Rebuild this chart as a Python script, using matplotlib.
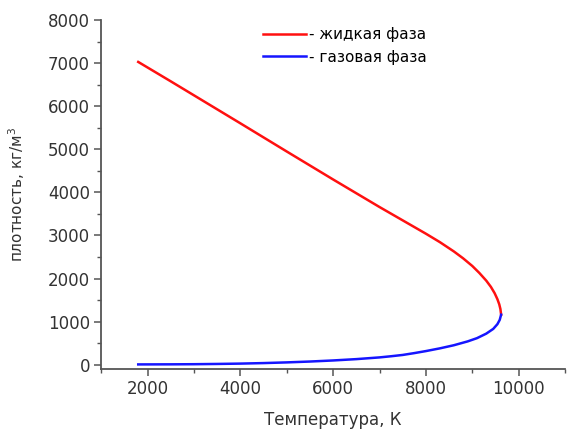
import matplotlib
matplotlib.use('Agg')
import matplotlib.pyplot as plt
from matplotlib.ticker import MultipleLocator

plt.rcParams['font.family'] = ['DejaVu Sans']

# liquid branch of the coexistence curve
T_liq = [1800, 2500, 3000, 4000, 5000, 6000, 6500, 7000, 7500, 8000,
         8300, 8600, 8800, 9000, 9150, 9300, 9400, 9480, 9540, 9580,
         9605, 9620]
rho_liq = [7030, 6580, 6255, 5605, 4950, 4300, 3980, 3660, 3350, 3040,
           2845, 2630, 2470, 2290, 2130, 1950, 1805, 1660, 1520, 1400,
           1290, 1160]

# gas branch
T_gas = [1800, 2500, 3000, 3500, 4000, 4500, 5000, 5500, 6000, 6500,
         7000, 7250, 7500, 7750, 8000, 8300, 8600, 8900, 9100, 9300,
         9450, 9540, 9590, 9620]
rho_gas = [5, 7, 10, 16, 24, 36, 52, 72, 97, 128,
           168, 195, 225, 268, 315, 378, 450, 540, 615, 720,
           830, 940, 1040, 1160]

fig = plt.figure(figsize=(5.68, 4.29), dpi=100)
ax = fig.add_axes([0.178, 0.140, 0.817, 0.813])

ax.plot(T_liq, rho_liq, color='#ff1010', lw=1.8, label='- жидкая фаза')
ax.plot(T_gas, rho_gas, color='#1515ff', lw=1.8, label='- газовая фаза')

ax.set_xlim(1000, 11000)
ax.set_ylim(-100, 8000)
ax.xaxis.set_major_locator(MultipleLocator(2000))
ax.xaxis.set_minor_locator(MultipleLocator(1000))
ax.yaxis.set_major_locator(MultipleLocator(1000))
ax.yaxis.set_minor_locator(MultipleLocator(500))

for s in ['top', 'right']:
    ax.spines[s].set_visible(False)
for s in ['left', 'bottom']:
    ax.spines[s].set_color('#555555')
    ax.spines[s].set_linewidth(1.3)

ax.tick_params(which='major', direction='out', length=5, width=1.1,
               color='#555555', labelsize=12, labelcolor='#333333', pad=3)
ax.tick_params(which='minor', direction='out', length=3, width=1.0,
               color='#555555')

ax.set_xlabel('Температура, К', fontsize=12, color='#333333', labelpad=9)
ax.set_ylabel('плотность, кг/м$^3$', fontsize=11, color='#333333', labelpad=15)

ax.legend(loc='upper left', bbox_to_anchor=(0.32, 1.02), frameon=False,
          fontsize=11, handlelength=2.8, handletextpad=0.2, labelspacing=0.5)

fig.savefig('out.png', dpi=100)
